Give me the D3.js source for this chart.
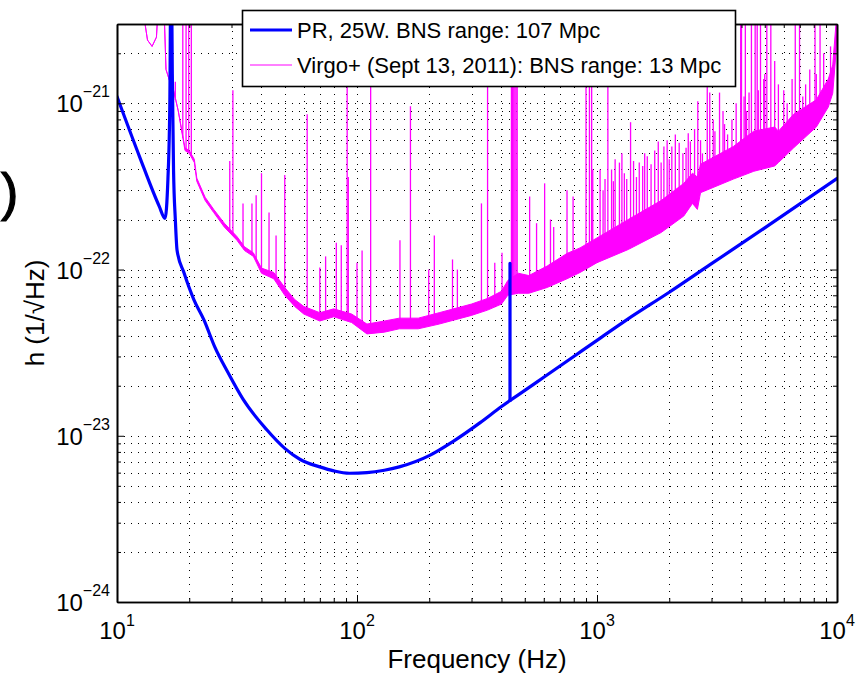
<!DOCTYPE html>
<html>
<head>
<meta charset="utf-8">
<script src="https://cdn.jsdelivr.net/npm/d3@7"></script>
<style>
  body { margin: 0; background: #fff; }
  svg { display: block; font-family: "Liberation Sans", Arial, Helvetica, sans-serif; }
</style>
</head>
<body>
<div id="chart"></div>
<script>
// PR, 25W design curve
const prFreq = [10, 12.4, 15.0, 15.85, 16.3, 16.6, 16.8, 17.0, 17.2, 17.5,
                17.8, 19, 20.9, 23, 25.6, 29, 33.5, 42, 50, 58,
                70, 80, 93, 110, 130, 150, 200, 250, 326, 400,
                434, 434, 434, 480, 600, 800, 1000, 1334, 2000, 2958,
                5000, 10000];
const prH = [1.1e-21, 4.8e-22, 2.4e-22, 2.03e-22, 3.5e-22, 1e-21, 1e-20, 1.5e-21, 4e-22, 2e-22,
             1.3e-22, 9.6e-23, 6.6e-23, 5e-23, 3.4e-23, 2.4e-23, 1.66e-23, 1.09e-23, 8.4e-24, 7.2e-24,
             6.5e-24, 6.15e-24, 5.95e-24, 6.0e-24, 6.2e-24, 6.5e-24, 7.6e-24, 9.2e-24, 1.2e-23, 1.5e-23,
             1.63e-23, 1.09e-22, 1.63e-23, 1.8e-23, 2.25e-23, 3e-23, 3.75e-23, 5.0e-23, 7.3e-23, 1.07e-22,
             1.78e-22, 3.53e-22];

// Virgo+ measured spectrum: noise floor band (lower / upper edge)
const virgoFreq = [12, 13, 13.4, 14, 14.6, 15, 15.6, 16, 16.6, 17.2,
                   18, 19.2, 20, 21, 21.5, 23.3, 25.3, 28, 31.6, 34,
                   37, 40, 45, 50, 55, 60, 70, 80, 95, 110,
                   130, 150, 180, 220, 300, 350, 400, 425, 470, 520,
                   620, 750, 850, 1000, 1350, 1850, 2300, 2500, 2620, 2700,
                   3700, 4500, 5500, 5700, 6600, 8200, 9200, 9600, 9900, 10000];
const virgoLo = [5e-21, 3.2e-21, 2.4e-21, 2.2e-21, 2.5e-21, 5e-21, 5e-21, 1.6e-21, 1.35e-21, 1.2e-21,
                 9e-22, 5.2e-22, 5.0e-22, 4.4e-22, 3.4e-22, 2.6e-22, 2.2e-22, 1.8e-22, 1.5e-22, 1.3e-22,
                 1.2e-22, 9.5e-23, 8.8e-23, 7e-23, 6e-23, 5.4e-23, 4.9e-23, 5.2e-23, 4.8e-23, 4.1e-23,
                 4.2e-23, 4.4e-23, 4.4e-23, 4.7e-23, 5.3e-23, 5.7e-23, 6.2e-23, 7e-23, 7.2e-23, 7.2e-23,
                 7.8e-23, 8.8e-23, 9.6e-23, 1.1e-22, 1.32e-22, 1.67e-22, 2.1e-22, 2.5e-22, 2.3e-22, 2.9e-22,
                 3.5e-22, 3.9e-22, 4.2e-22, 4.4e-22, 5.4e-22, 7.2e-22, 9.5e-22, 1.15e-21, 2e-21, 3e-21];
const virgoHi = [5e-21, 3.2e-21, 2.4e-21, 2.2e-21, 2.5e-21, 5e-21, 5e-21, 1.6e-21, 1.35e-21, 1.2e-21,
                 9e-22, 5.4e-22, 5.2e-22, 4.6e-22, 3.55e-22, 2.72e-22, 2.3e-22, 1.9e-22, 1.58e-22, 1.37e-22,
                 1.26e-22, 1.02e-22, 9.6e-23, 7.8e-23, 6.6e-23, 6.0e-23, 5.5e-23, 5.8e-23, 5.4e-23, 4.7e-23,
                 4.9e-23, 5.1e-23, 5.1e-23, 5.5e-23, 6.2e-23, 6.7e-23, 7.4e-23, 8.6e-23, 9.5e-23, 9.2e-23,
                 1.05e-22, 1.25e-22, 1.35e-22, 1.55e-22, 2e-22, 2.6e-22, 3.3e-22, 3.8e-22, 3.6e-22, 4.3e-22,
                 5.5e-22, 6.8e-22, 7.2e-22, 6.8e-22, 8.6e-22, 1.05e-21, 1.4e-21, 1.7e-21, 3e-21, 4e-21];

// Virgo+ spectral lines (frequency, peak)
const lineFreq = [17.5, 18.2, 18.8, 19.4, 19.9, 20.4, 29.5, 30.4, 33.5, 36.5,
                  38, 40, 43, 46, 50, 62, 70, 74, 82, 86,
                  91, 92, 100, 105, 114, 151, 167, 199, 210, 250,
                  262, 330, 350, 375, 402, 440, 445, 450, 455, 460,
                  465, 524, 560, 605, 640, 660, 750, 795, 900, 930,
                  950, 960, 1030, 1080, 1110, 1150, 1190, 1240, 1270, 1330,
                  1380, 1420, 1500, 1580, 1620, 1680, 1740, 1800, 1900, 1960,
                  2050, 2120, 2200, 2350, 2450, 2550, 2630, 2750, 2880, 2950,
                  3050, 3240, 3350, 3500, 3800, 3970, 4100, 4200, 4300, 4560,
                  4700, 4800, 5000, 5100, 5300, 5500, 5700, 6000, 6200, 6500,
                  6980, 7200, 7400, 7700, 7900, 8200, 8500, 8800, 9000, 9400,
                  1060, 1170, 1300, 1460, 1550, 1850, 2000, 2280, 2400, 2700,
                  3100, 3400, 3650, 4000, 4150, 4400, 4650, 4950, 6700, 8100];
const linePeak = [1.35e-21, 8e-22, 5e-21, 5e-21, 5e-21, 5e-21, 4.5e-22, 1.2e-21, 2.5e-22, 2.5e-22,
                  2.8e-22, 3.8e-22, 2.2e-22, 1.6e-22, 3.7e-22, 8.6e-22, 1.03e-22, 1.2e-22, 1.45e-22, 1.4e-22,
                  5e-21, 3.6e-22, 1.1e-22, 1.3e-22, 5e-21, 1.5e-22, 9.6e-22, 1.0e-22, 1.6e-22, 1.15e-22,
                  1.0e-22, 2.5e-22, 5e-21, 1.1e-22, 1.26e-22, 5e-21, 5e-21, 5e-21, 5e-21, 5e-21,
                  5e-21, 2.75e-22, 1.9e-22, 3.3e-22, 2.0e-22, 1.8e-22, 3e-22, 2.75e-22, 5e-21, 5e-21,
                  5e-21, 4e-22, 4e-22, 3.5e-22, 5e-21, 4e-22, 4.6e-22, 4.4e-22, 5e-22, 3.5e-22,
                  7.7e-22, 4.5e-22, 4.4e-22, 5e-22, 4.8e-22, 4.3e-22, 5.2e-22, 5.9e-22, 5.5e-22, 6e-22,
                  5.5e-22, 6.5e-22, 5.8e-22, 5.4e-22, 5.9e-22, 7e-22, 1.03e-21, 5e-22, 5e-21, 1.16e-21,
                  8e-22, 1.16e-21, 9e-22, 6.5e-22, 1e-21, 5e-21, 1.1e-21, 9e-22, 1.16e-21, 5e-21,
                  1.2e-21, 5e-21, 1.5e-21, 5e-21, 5e-21, 1.8e-21, 1.3e-21, 1.2e-21, 1e-21, 1.4e-21,
                  5e-21, 1.1e-21, 1.3e-21, 1.6e-21, 1e-21, 1.5e-21, 5e-21, 2e-21, 1.2e-21, 2.2e-21,
                  3.0e-22, 3.4e-22, 3.8e-22, 3.6e-22, 4.2e-22, 4.4e-22, 4.6e-22, 5e-22, 6.6e-22, 6e-22,
                  6.8e-22, 7.5e-22, 8e-22, 5e-21, 5e-21, 5e-21, 5e-21, 1.4e-21, 5e-21, 5e-21];

const xTickExp = [1, 2, 3, 4];
const yTickExp = [-24, -23, -22, -21];
const legendLabels = ["PR, 25W. BNS range: 107 Mpc", "Virgo+ (Sept 13, 2011): BNS range: 13 Mpc"];
const colors = ["#0000ff", "#ff00ff"];

const width = 859, height = 673;
const margin = {top: 24, right: 22, bottom: 71, left: 117};
const innerW = width - margin.left - margin.right;
const innerH = height - margin.top - margin.bottom;

const x = d3.scaleLog().domain([10, 1e4]).range([0, innerW]);
const y = d3.scaleLog().domain([1e-24, 3e-21]).range([innerH, 0]);

const svg = d3.select("#chart").append("svg")
    .attr("width", width)
    .attr("height", height);

const g = svg.append("g")
    .attr("transform", `translate(${margin.left},${margin.top})`);

// minor + major values
const xAll = [], yAll = [];
for (let k = 1; k <= 3; k++) for (let d = 1; d <= 9; d++) xAll.push(d * Math.pow(10, k));
xAll.push(1e4);
for (let k = -24; k <= -21; k++) for (let d = 1; d <= 9; d++) {
    const v = d * Math.pow(10, k);
    if (v <= 3.0001e-21) yAll.push(v);
}
const xMajor = xTickExp.map(e => Math.pow(10, e));
const yMajor = yTickExp.map(e => Math.pow(10, e));
const xMinor = xAll.filter(v => !xMajor.some(m => Math.abs(m - v) / m < 1e-6));
const yMinor = yAll.filter(v => !yMajor.some(m => Math.abs(m - v) / m < 1e-6));

// dotted grid
const grid = g.append("g")
    .attr("stroke", "#000")
    .attr("stroke-width", 1)
    .attr("stroke-dasharray", "1,6");
grid.selectAll(".gx").data(xAll.filter(v => v > 10 && v < 1e4)).join("line")
    .attr("x1", d => Math.round(x(d)) + 0.5).attr("x2", d => Math.round(x(d)) + 0.5)
    .attr("y1", 0).attr("y2", innerH);
grid.selectAll(".gy").data(yAll.filter(v => v > 1e-24)).join("line")
    .attr("y1", d => Math.round(y(d)) + 0.5).attr("y2", d => Math.round(y(d)) + 0.5)
    .attr("x1", 0).attr("x2", innerW);

// clip
svg.append("defs").append("clipPath").attr("id", "plotclip")
    .append("rect").attr("width", innerW).attr("height", innerH);
const plot = g.append("g").attr("clip-path", "url(#plotclip)");

// Virgo+ band
const band = virgoFreq.map((f, i) => ({f, lo: virgoLo[i], hi: virgoHi[i]}));
plot.append("path")
    .datum(band)
    .attr("fill", colors[1])
    .attr("stroke", colors[1])
    .attr("stroke-width", 1)
    .attr("stroke-linejoin", "round")
    .attr("d", d3.area()
        .x(d => x(d.f))
        .y0(d => y(d.lo))
        .y1(d => y(d.hi)));

// spectral lines rise from the upper edge of the band
const hiAt = f => {
    const i = d3.bisectLeft(virgoFreq, f);
    if (i <= 0) return virgoHi[0];
    if (i >= virgoFreq.length) return virgoHi[virgoFreq.length - 1];
    const f0 = virgoFreq[i - 1], f1 = virgoFreq[i];
    const t = (Math.log(f) - Math.log(f0)) / (Math.log(f1) - Math.log(f0));
    return Math.exp(Math.log(virgoHi[i - 1]) + t * (Math.log(virgoHi[i]) - Math.log(virgoHi[i - 1])));
};
plot.append("g")
    .attr("stroke", colors[1])
    .attr("stroke-width", 1.3)
    .selectAll("line")
    .data(lineFreq.map((f, i) => ({f, peak: linePeak[i]})))
    .join("line")
    .attr("x1", d => x(d.f)).attr("x2", d => x(d.f))
    .attr("y1", d => y(hiAt(d.f)) + 2).attr("y2", d => y(d.peak));

// PR curve: smooth pieces, the calibration line at repeated frequency drawn straight
const prPts = prFreq.map((f, i) => ({f, h: prH[i]}));
const dupStart = prFreq.findIndex((f, i) => f === prFreq[i + 1]);
let dupEnd = dupStart;
while (prFreq[dupEnd + 1] === prFreq[dupStart]) dupEnd++;
const smooth = d3.line().x(d => x(d.f)).y(d => y(d.h)).curve(d3.curveMonotoneX);
const straight = d3.line().x(d => x(d.f)).y(d => y(d.h));
const prPieces = [
    [smooth, prPts.slice(0, dupStart + 1)],
    [straight, prPts.slice(dupStart, dupEnd + 1)],
    [smooth, prPts.slice(dupEnd)]
];
plot.append("g").selectAll("path").data(prPieces).join("path")
    .attr("fill", "none")
    .attr("stroke", colors[0])
    .attr("stroke-width", 3.2)
    .attr("stroke-linejoin", "round")
    .attr("stroke-linecap", "round")
    .attr("d", d => d[0](d[1]));

// axes, ticks inward on all four sides
const axisStyle = a => a.call(s => s.select(".domain").attr("stroke", "#000").attr("stroke-width", 1.6))
    .call(s => s.selectAll(".tick line").attr("stroke", "#000").attr("stroke-width", 1));

g.append("g").attr("transform", `translate(0,${innerH})`)
    .call(d3.axisBottom(x).tickValues(xMajor).tickSize(-7).tickSizeOuter(0).tickFormat(""))
    .call(axisStyle);
g.append("g").attr("transform", `translate(0,${innerH})`)
    .call(d3.axisBottom(x).tickValues(xMinor).tickSize(-4).tickSizeOuter(0).tickFormat(""))
    .call(axisStyle);
g.append("g")
    .call(d3.axisTop(x).tickValues(xMajor).tickSize(-7).tickSizeOuter(0).tickFormat(""))
    .call(axisStyle);
g.append("g")
    .call(d3.axisTop(x).tickValues(xMinor).tickSize(-4).tickSizeOuter(0).tickFormat(""))
    .call(axisStyle);
g.append("g")
    .call(d3.axisLeft(y).tickValues(yMajor).tickSize(-7).tickSizeOuter(0).tickFormat(""))
    .call(axisStyle);
g.append("g")
    .call(d3.axisLeft(y).tickValues(yMinor).tickSize(-4).tickSizeOuter(0).tickFormat(""))
    .call(axisStyle);
g.append("g").attr("transform", `translate(${innerW},0)`)
    .call(d3.axisRight(y).tickValues(yMajor).tickSize(-7).tickSizeOuter(0).tickFormat(""))
    .call(axisStyle);
g.append("g").attr("transform", `translate(${innerW},0)`)
    .call(d3.axisRight(y).tickValues(yMinor).tickSize(-4).tickSizeOuter(0).tickFormat(""))
    .call(axisStyle);

// tick labels 10^n
const xl = g.append("g").selectAll("text").data(xTickExp).join("text")
    .attr("x", d => x(Math.pow(10, d)))
    .attr("y", innerH + 37)
    .attr("text-anchor", "middle")
    .attr("font-size", 24)
    .attr("fill", "#000");
xl.append("tspan").text("10");
xl.append("tspan").attr("dy", -13).attr("font-size", 16).text(d => d);

const yl = g.append("g").selectAll("text").data(yTickExp).join("text")
    .attr("x", -7)
    .attr("y", d => y(Math.pow(10, d)) + 9)
    .attr("text-anchor", "end")
    .attr("font-size", 24)
    .attr("fill", "#000");
yl.append("tspan").text("10");
yl.append("tspan").attr("dy", -15).attr("font-size", 16).text(d => "\u2212" + Math.abs(d));

// axis titles
svg.append("text")
    .attr("x", margin.left + innerW / 2)
    .attr("y", 668)
    .attr("text-anchor", "middle")
    .attr("font-size", 26)
    .text("Frequency (Hz)");
svg.append("text")
    .attr("transform", `translate(44,${margin.top + innerH / 2}) rotate(-90)`)
    .attr("text-anchor", "middle")
    .attr("font-size", 26)
    .text("h (1/\u221AHz)");

// stray parenthesis at the left edge
svg.append("text")
    .attr("x", 1)
    .attr("y", 210)
    .attr("font-size", 52)
    .attr("stroke", "#000")
    .attr("stroke-width", 1.2)
    .text(")");

// legend
const legend = svg.append("g");
legend.append("rect")
    .attr("x", 242.5).attr("y", 10.5)
    .attr("width", 493).attr("height", 76)
    .attr("fill", "#fff")
    .attr("stroke", "#000")
    .attr("stroke-width", 1.6);
legendLabels.forEach((label, i) => {
    const ly = 30 + i * 35;
    legend.append("line")
        .attr("x1", 250).attr("x2", 292)
        .attr("y1", ly).attr("y2", ly)
        .attr("stroke", colors[i])
        .attr("stroke-width", i === 0 ? 3 : 1);
    legend.append("text")
        .attr("x", 297)
        .attr("y", ly + 8)
        .attr("font-size", 22)
        .text(label);
});
</script>
</body>
</html>
